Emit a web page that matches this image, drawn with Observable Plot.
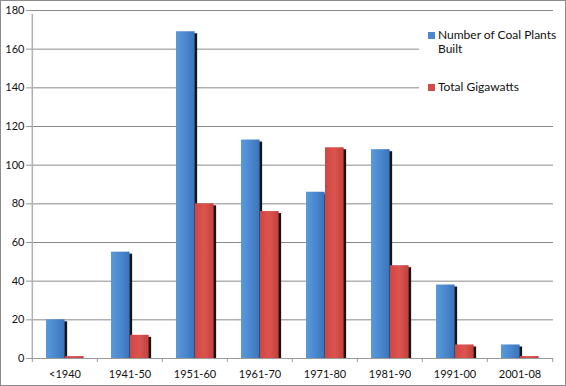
<!DOCTYPE html>
<html>
<head>
<meta charset="utf-8">
<script src="https://cdn.jsdelivr.net/npm/d3@7"></script>
<script src="https://cdn.jsdelivr.net/npm/@observablehq/plot@0.6"></script>
<style>
  html, body { margin: 0; padding: 0; background: #fff; }
  #wrap { position: relative; width: 566px; height: 386px; overflow: hidden; font-family: Lato, "Open Sans", sans-serif; }
  #frame { position: absolute; left: 0; top: 0; width: 564px; height: 384px; border: 1px solid #8c8c8c; pointer-events: none; }
  #legend { position: absolute; left: 419px; top: 22px; width: 136px; height: 82px; background: #fff; font-size: 12px; color: #111; }
  .item { position: absolute; left: 9px; display: flex; align-items: flex-start; line-height: 14px; }
  .sw { width: 7px; height: 7px; margin-top: 4px; margin-right: 3px; flex: none; }
</style>
</head>
<body>
<div id="wrap"></div>
<script>
const periods = ["<1940", "1941-50", "1951-60", "1961-70", "1971-80", "1981-90", "1991-00", "2001-08"];
const plantsBuilt = [20, 55, 169, 113, 86, 108, 38, 7];
const gigawatts = [1, 12, 80, 76, 109, 48, 7, 1];
const seriesNames = ["Number of Coal Plants Built", "Total Gigawatts"];
const yTicks = [0, 20, 40, 60, 80, 100, 120, 140, 160, 180];

const blueData = periods.map((p, i) => ({period: p, value: plantsBuilt[i]}));
const redData = periods.map((p, i) => ({period: p, value: gigawatts[i]}));

const W = 566, H = 386, mL = 30, mR = 13, mT = 10, mB = 28;
const bw = (W - mL - mR) / periods.length;
const barW = 19, gapL = 14;

const font = "Lato, 'Open Sans', sans-serif";

const chart = Plot.plot({
  width: W, height: H,
  marginLeft: mL, marginRight: mR, marginTop: mT, marginBottom: mB,
  style: {fontFamily: font, fontSize: "11px", color: "#111", background: "transparent"},
  x: {domain: periods, padding: 0, axis: null, label: null},
  y: {domain: [0, 180], axis: null, label: null},
  marks: [
    Plot.gridY(yTicks, {stroke: "#8a8a8a", strokeOpacity: 1, strokeWidth: 1}),
    // shadows
    Plot.barY(blueData, {x: "period", y: "value", fill: "#151515", insetLeft: gapL, insetRight: bw - gapL - barW, insetBottom: 2, dx: 2.5, dy: 2}),
    Plot.barY(redData, {x: "period", y: "value", fill: "#151515", insetLeft: gapL + barW, insetRight: bw - gapL - 2 * barW, insetBottom: 2, dx: 2.5, dy: 2}),
    // bars
    Plot.barY(blueData, {x: "period", y: "value", fill: "url(#gBlue)", insetLeft: gapL, insetRight: bw - gapL - barW}),
    Plot.barY(redData, {x: "period", y: "value", fill: "url(#gRed)", insetLeft: gapL + barW, insetRight: bw - gapL - 2 * barW}),
    // axes
    Plot.ruleY([0], {stroke: "#9a9a9a"}),
    Plot.axisY(yTicks, {tickSize: 4, tickPadding: 2, stroke: "#9a9a9a", fill: "#111", fontSize: 11, label: null}),
    Plot.ruleX([0], {x: () => periods[0], dx: -bw / 2, y1: 0, y2: 180, stroke: "#b0b0b0", strokeWidth: 1.5, insetBottom: -4}),
    Plot.axisX(periods, {tickSize: 4, text: null, dx: -bw / 2, stroke: "#9a9a9a", label: null}),
    Plot.axisX([periods[periods.length - 1]], {tickSize: 4, text: null, dx: bw / 2, stroke: "#9a9a9a", label: null}),
    Plot.axisX(periods, {tickSize: 0, tickPadding: 12, fill: "#111", fontSize: 11, label: null})
  ]
});

// gradients
const ns = "http://www.w3.org/2000/svg";
const defs = document.createElementNS(ns, "defs");
defs.innerHTML = `
<linearGradient id="gBlue" x1="0" x2="1" y1="0" y2="0">
  <stop offset="0" stop-color="#5a9ad9"/>
  <stop offset="0.5" stop-color="#4a88cf"/>
  <stop offset="1" stop-color="#3b73b8"/>
</linearGradient>
<linearGradient id="gRed" x1="0" x2="1" y1="0" y2="0">
  <stop offset="0" stop-color="#cf4541"/>
  <stop offset="0.5" stop-color="#dc5450"/>
  <stop offset="1" stop-color="#c2403d"/>
</linearGradient>`;
chart.insertBefore(defs, chart.firstChild);

const wrap = document.getElementById("wrap");
wrap.appendChild(chart);

const legend = document.createElement("div");
legend.id = "legend";
legend.innerHTML = `
  <div class="item" style="top:6px"><div class="sw" style="background:#4a88cf"></div><div style="width:120px">Number of Coal Plants<br>Built</div></div>
  <div class="item" style="top:58px"><div class="sw" style="background:#d24b47"></div><div>Total Gigawatts</div></div>`;
wrap.appendChild(legend);
const frame = document.createElement("div");
frame.id = "frame";
wrap.appendChild(frame);
</script>
</body>
</html>
